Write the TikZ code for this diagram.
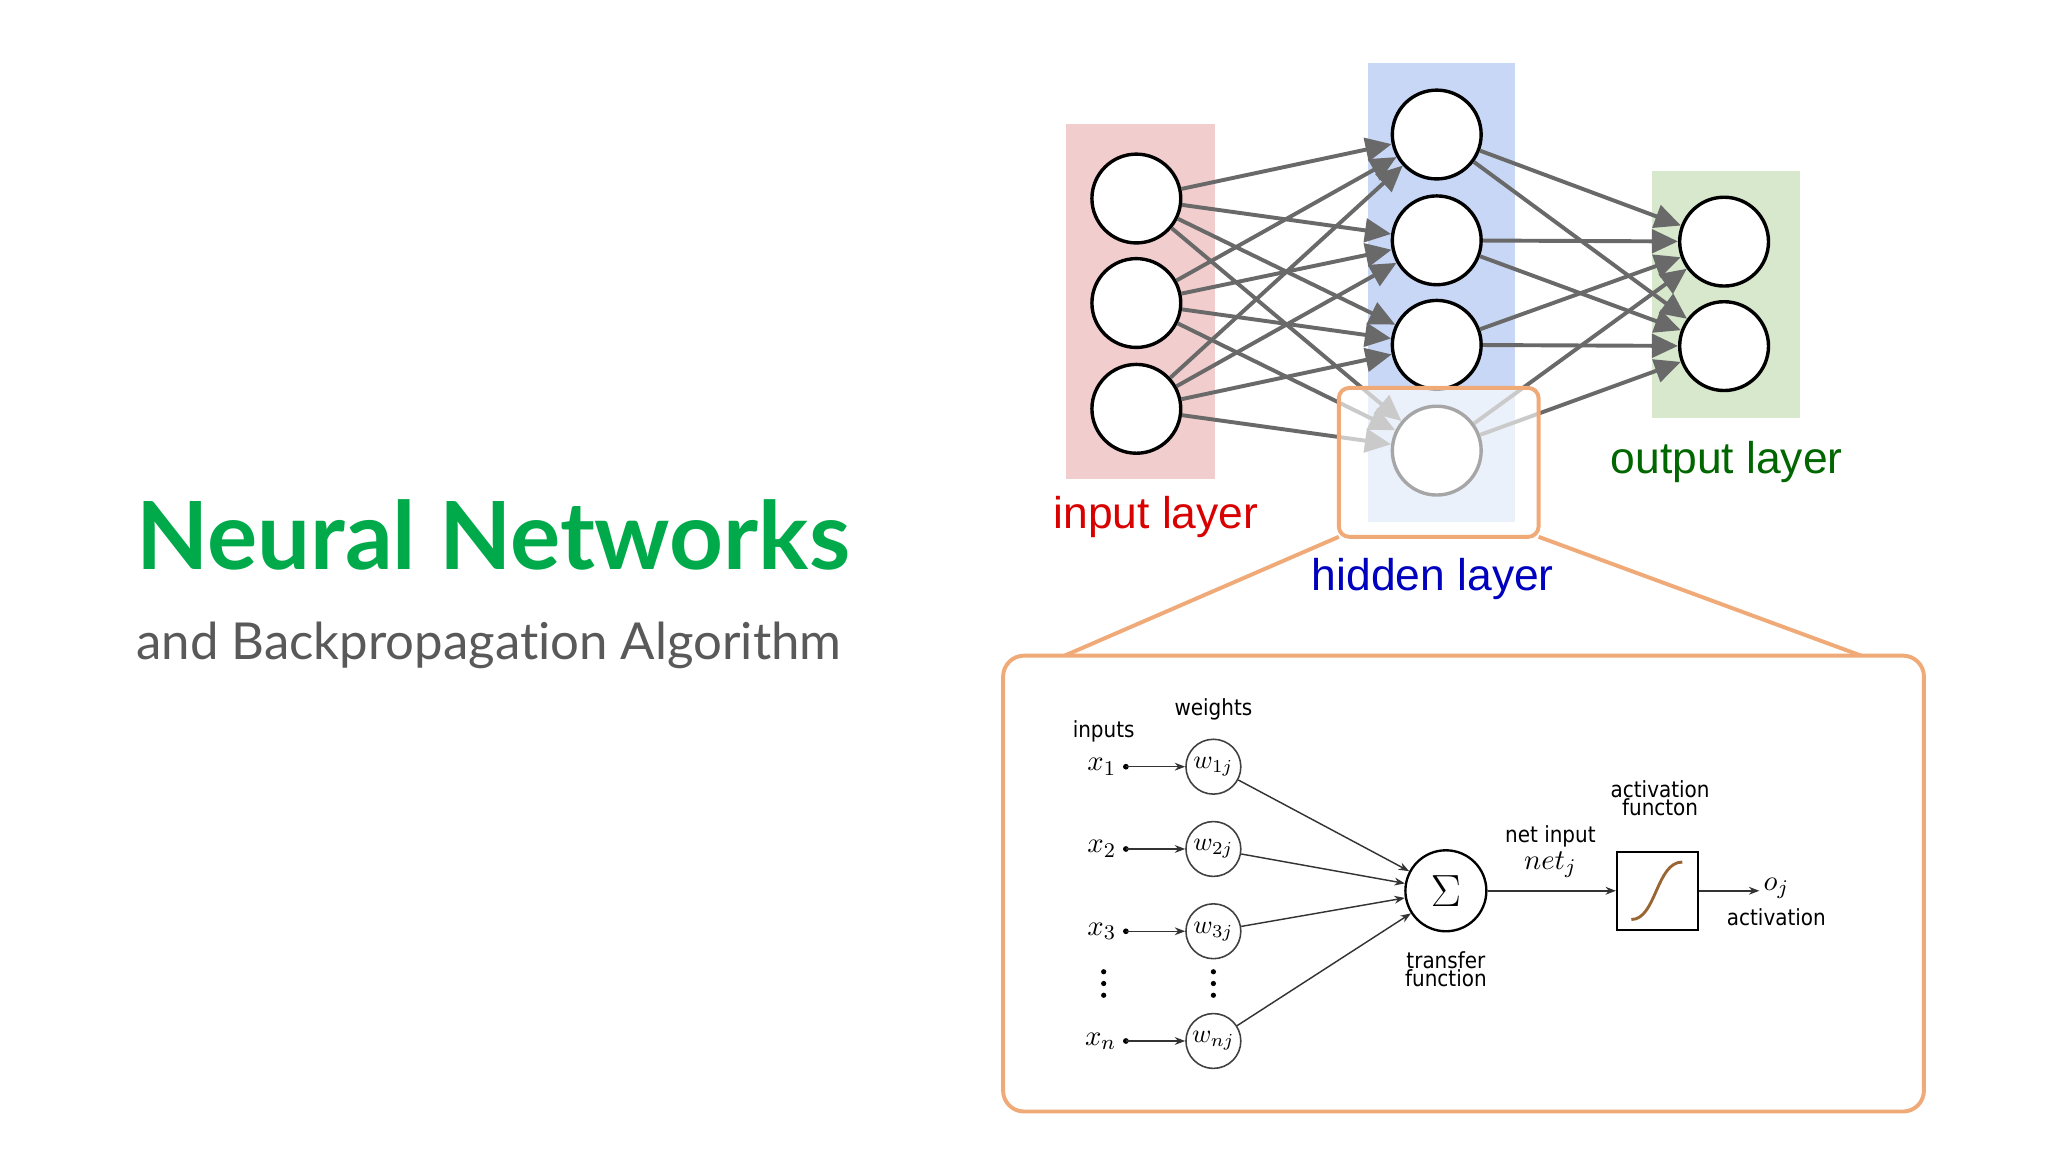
\documentclass[tikz,border=0pt]{standalone}
\usepackage{fontspec}
\setmainfont{Liberation Sans}
\newfontfamily\titlefont{Lato}[Ligatures={NoCommon}]
\newfontfamily\djv{DejaVu Sans Condensed}
\usetikzlibrary{arrows.meta}
\definecolor{ttl}{RGB}{0,170,75}
\definecolor{org}{RGB}{240,170,120}
\definecolor{edge}{RGB}{105,105,105}
\definecolor{pk}{RGB}{242,205,205}
\definecolor{bl}{RGB}{200,215,245}
\definecolor{gr}{RGB}{215,232,205}
\begin{document}
\begin{tikzpicture}[x=0.5pt,y=-0.5pt,
  neuron/.style={circle,draw=black,line width=1.3pt,fill=white,minimum size=34pt,inner sep=0},
  conn/.style={draw=edge,line width=1.5pt,-{Triangle[length=10pt,width=9pt]}},
  wn/.style={circle,draw=black!75,line width=0.6pt,fill=white,minimum size=21pt,inner sep=0,font=\fontsize{10}{10}\selectfont},
  small/.style={font=\djv\fontsize{8.5}{9}\selectfont,align=center,inner sep=1pt},
  thin/.style={draw=black!80,line width=0.55pt,-{Stealth[length=4pt,width=3pt]}}]
\useasboundingbox (0,0) rectangle (1568,882);
\fill[white] (0,0) rectangle (1568,882);
% title
\node[anchor=base west,inner sep=0,text=ttl,font=\titlefont\bfseries\fontsize{36}{36}\selectfont] (title) at (104,436) {Neural Networks};
\node[anchor=base west,inner sep=0,text=black!65,font=\titlefont\fontsize{19.5}{20}\selectfont] (sub) at (104,505) {and Backpropagation Algorithm};
% layer boxes
\fill[pk] (816,95) rectangle (930,367);
\fill[bl] (1047,48) rectangle (1160,400);
\fill[gr] (1265,131) rectangle (1378,320);
% nodes
\foreach \i/\y in {1/152,2/232,3/313} \node[neuron] (i\i) at (870,\y) {};
\foreach \i/\y in {1/103,2/184,3/264,4/345} \node[neuron] (h\i) at (1100,\y) {};
\foreach \i/\y in {1/185,2/265} \node[neuron] (o\i) at (1320,\y) {};
\foreach \a in {1,2,3} \foreach \b in {1,2,3,4} \draw[conn] (i\a) -- (h\b);
\foreach \a in {1,2,3,4} \foreach \b in {1,2} \draw[conn] (h\a) -- (o\b);
% highlight
\draw[org,line width=1.5pt,fill=white,fill opacity=0.65,rounded corners=4pt] (1025,297) rectangle (1178,411);
\node[text=red!85!black,font=\fontsize{17}{17}\selectfont] (li) at (885,396) {input layer};
\node[text=blue!75!black,font=\fontsize{17}{17}\selectfont] (lh) at (1097,443) {hidden layer};
\node[text=green!40!black,font=\fontsize{17}{17}\selectfont] (lo) at (1322,354) {output layer};
% zoom lines and panel
\coordinate (c1) at (1025,411); \coordinate (c2) at (1178,411);
\coordinate (p1) at (815,502); \coordinate (p2) at (1425,502);
\draw[org,line width=1.5pt] (c1) -- (p1) (c2) -- (p2);
\draw[org,line width=1.5pt,fill=white,rounded corners=8pt] (768,502) rectangle (1473,851);
% neuron detail
\node[small] (inl) at (845,560) {inputs};
\node[small] (wl) at (929,543) {weights};
\node[wn] (w1) at (929,587) {$w_{1j}$};
\node[wn] (w2) at (929,650) {$w_{2j}$};
\node[wn] (w3) at (929,713) {$w_{3j}$};
\node[wn] (wn) at (929,797) {$w_{nj}$};
\foreach \n/\y/\l in {1/587/1,2/650/2,3/713/3,n/797/n} {
  \node[font=\fontsize{11}{11}\selectfont,anchor=east,inner sep=1pt] (x\n) at (857,\y) {$x_{\l}$};
  \coordinate (d\n) at (862,\y);
  \fill (d\n) circle (2.2);
  \draw[thin] (d\n) -- (w\n);
}
\foreach \xx in {845,929} \foreach \yy in {744,753,762} \fill (\xx,\yy) circle (2);
\node[circle,draw=black,line width=0.9pt,minimum size=31pt,inner sep=0,font=\fontsize{17}{17}\selectfont] (sig) at (1107,682) {$\Sigma$};
\foreach \n in {1,2,3,n} \draw[thin] (w\n) -- (sig);
\node[small] (tf) at (1107,742) {transfer\\[-2pt]function};
\node[draw=black,line width=0.8pt,minimum width=31pt,minimum height=30pt,inner sep=0] (act) at (1269,682) {};
\draw[brown!80!black,line width=1.1pt] (1249,704) .. controls (1268,704) and (1268,660) .. (1288,660);
\node[small] (af) at (1271,611) {activation\\[-2pt]functon};
\node[small] (ni) at (1187,640) {net input};
\node[font=\fontsize{11}{11}\selectfont] (nj) at (1187,662) {$net_j$};
\draw[thin] (sig) -- (act);
\coordinate (oj) at (1347,682);
\draw[thin] (act) -- (oj);
\node[font=\fontsize{11}{11}\selectfont] (ojl) at (1360,680) {$o_j$};
\node[small] (al) at (1360,702) {activation};
\end{tikzpicture}
\end{document}
